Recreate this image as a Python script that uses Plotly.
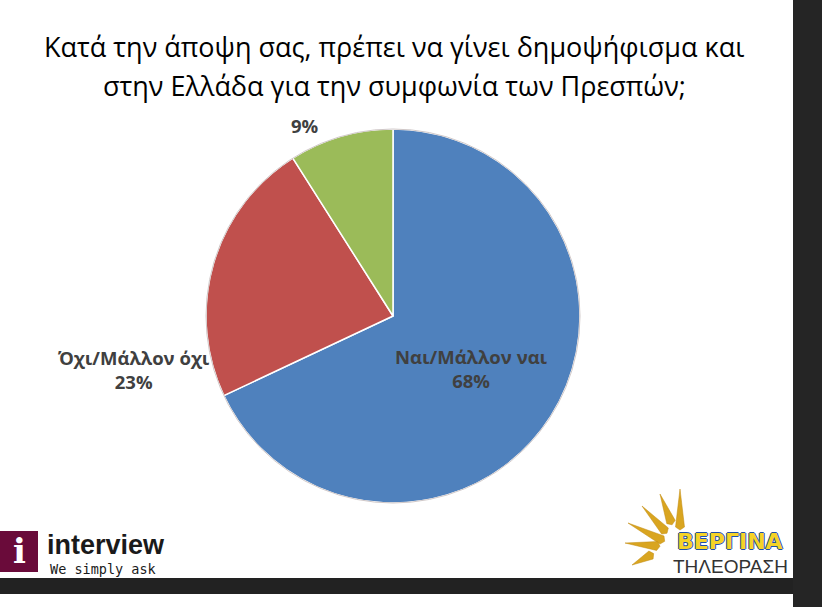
import plotly.graph_objects as go

# ---- data ----
categories = ["Ναι/Μάλλον ναι", "Όχι/Μάλλον όχι", ""]
values = [68, 23, 9]
colors = ["#4F81BD", "#C0504D", "#9BBB59"]
title_lines = ["Κατά την άποψη σας, πρέπει να γίνει δημοψήφισμα και",
               "στην Ελλάδα για την συμφωνία των Πρεσπών;"]

W, H = 822, 607
cx, cy, r = 393, 316, 187  # pixel center/radius of pie

def px(x):
    return x / W

def py(y):
    return 1 - y / H

fig = go.Figure()
fig.add_trace(go.Pie(
    labels=[c if c else " " for c in categories],
    values=values,
    marker=dict(colors=colors, line=dict(color="white", width=1.5)),
    sort=False, direction="clockwise", rotation=0,
    textinfo="none", hoverinfo="label+percent",
    showlegend=False,
    domain=dict(x=[px(cx - r), px(cx + r)], y=[py(cy + r), py(cy - r)]),
))

shapes = []
shapes.append(dict(type="circle", xref="paper", yref="paper",
                   x0=px(cx - r), x1=px(cx + r), y0=py(cy + r), y1=py(cy - r),
                   line=dict(color="#d0c8c8", width=1)))
shapes.append(dict(type="rect", xref="paper", yref="paper", x0=px(793), x1=1, y0=0, y1=1,
                   fillcolor="#252525", line=dict(width=0), layer="above"))
shapes.append(dict(type="rect", xref="paper", yref="paper", x0=0, x1=px(793), y0=py(594), y1=py(578),
                   fillcolor="#222222", line=dict(width=0), layer="above"))
shapes.append(dict(type="rect", xref="paper", yref="paper", x0=px(0), x1=px(38), y0=py(572), y1=py(531),
                   fillcolor="#6A0B3A", line=dict(width=0), layer="above"))

rays = [(680, 489, 680, 527), (660, 494, 671, 522), (642, 506, 665, 531),
        (628, 523, 662, 540), (625, 543, 657, 546), (632, 565, 651, 555)]
for tx, ty, bx, by in rays:
    dx, dy = bx - tx, by - ty
    L = (dx * dx + dy * dy) ** 0.5
    nx, ny = -dy / L * 4.5, dx / L * 4.5
    path = (f"M {px(tx)} {py(ty)} L {px(bx + nx)} {py(by + ny)} "
            f"L {px(bx + dx / L * 3)} {py(by + dy / L * 3)} L {px(bx - nx)} {py(by - ny)} Z")
    shapes.append(dict(type="path", xref="paper", yref="paper", path=path,
                       fillcolor="#D9A520", line=dict(color="#C08A10", width=0.5), layer="above"))

ann = []
label_font = dict(family="Open Sans, Liberation Sans, sans-serif", size=18.5, color="#404040")
label_pos = [(471, 368, "center"), (212, 369, "right"), (305, 125, "center")]
for cat, val, (lx, ly, al) in zip(categories, values, label_pos):
    txt = f"<b>{cat}</b><br><b>{val}%</b>" if cat else f"<b>{val}%</b>"
    ann.append(dict(x=px(lx), y=py(ly), xref="paper", yref="paper", text=txt, showarrow=False,
                    xanchor=al, yanchor="middle",
                    align="center", font=label_font))
for i, line in enumerate(title_lines):
    ann.append(dict(x=px(394), y=py(46 + i * 39), xref="paper", yref="paper", text=line,
                    showarrow=False, xanchor="center", yanchor="middle",
                    font=dict(family="Open Sans, sans-serif", size=27, color="#000000")))
ann.append(dict(x=px(19), y=py(551), xref="paper", yref="paper", text="<b>i</b>", showarrow=False,
                font=dict(family="DejaVu Serif", size=34, color="white"), xanchor="center", yanchor="middle"))
ann.append(dict(x=px(46), y=py(561), xref="paper", yref="paper", text="<b>interview</b>", showarrow=False,
                font=dict(family="Liberation Sans, sans-serif", size=27, color="#1a1a1a"),
                xanchor="left", yanchor="bottom", borderpad=0))
ann.append(dict(x=px(49), y=py(560), xref="paper", yref="paper", text="We simply ask", showarrow=False,
                font=dict(family="DejaVu Sans Mono, monospace", size=13.5, color="#1a1a1a"),
                xanchor="left", yanchor="top", borderpad=0))
ann.append(dict(x=px(730), y=py(555), xref="paper", yref="paper", text="<b>ΒΕΡΓΙΝΑ</b>", showarrow=False,
                font=dict(family="DejaVu Sans, sans-serif", size=22, color="#F5D327",
                          shadow="1px 0 0 #1F4FA8, -1px 0 0 #1F4FA8, 0 1px 0 #1F4FA8, 0 -1px 0 #1F4FA8"),
                xanchor="center", yanchor="bottom", borderpad=0))
ann.append(dict(x=px(730), y=py(555), xref="paper", yref="paper", text="ΤΗΛΕΟΡΑΣΗ", showarrow=False,
                font=dict(family="Liberation Sans, sans-serif", size=19, color="#333333"),
                xanchor="center", yanchor="top", borderpad=0))

fig.update_layout(
    width=W, height=H,
    margin=dict(l=0, r=0, t=0, b=0),
    paper_bgcolor="white", plot_bgcolor="white",
    shapes=shapes, annotations=ann,
)
fig.write_html("out.html", config={"displayModeBar": False},
               post_script="document.body.style.margin='0';")
